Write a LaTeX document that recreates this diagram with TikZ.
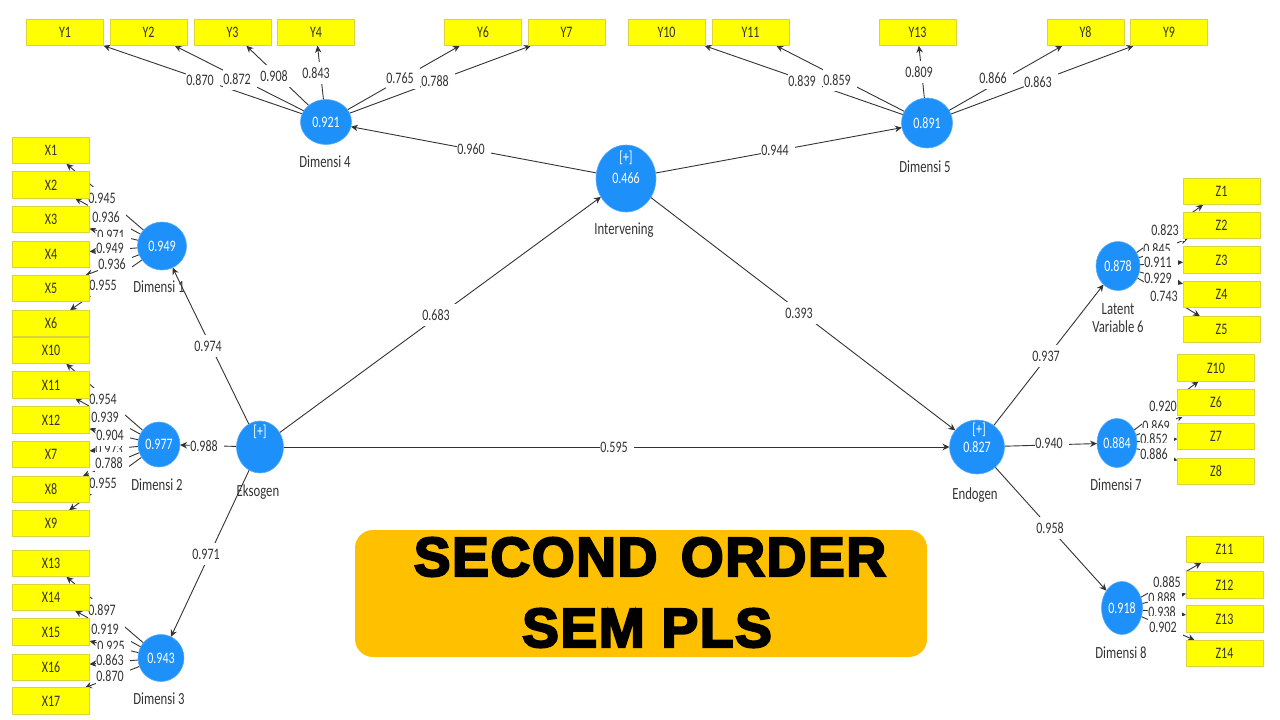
\documentclass[tikz,border=0pt]{standalone}
\usepackage{fontspec}
\setmainfont[FakeStretch=0.75]{Carlito}
\newfontfamily\headfont[FakeBold=4, LetterSpace=3]{Liberation Sans Bold}
\usetikzlibrary{arrows.meta, shapes.geometric, backgrounds}
\definecolor{boxyellow}{HTML}{FFFF00}
\definecolor{boxedge}{HTML}{DCD23C}
\definecolor{latentblue}{HTML}{1E90FA}
\definecolor{bannerorange}{HTML}{FFC000}
\definecolor{inktext}{HTML}{333333}
\tikzset{
indicator/.style={draw=boxedge, line width=0.8pt, fill=boxyellow, minimum width=77, minimum height=26.5, inner sep=0, outer sep=0, font=\fontsize{16}{16}\selectfont, text=inktext},
latent/.style={ellipse, fill=latentblue, draw=latentblue!75!white, line width=0.6pt, inner sep=0, outer sep=0, text=white, font=\fontsize{16}{16}\selectfont},
plus/.style={text=white, font=\fontsize{16}{16}\selectfont, inner sep=0},
loading/.style={fill=white, inner sep=0, minimum height=22, xshift=3pt, execute at end node={\hspace{6pt}}, text=inktext, font=\fontsize{16}{16}\selectfont},
caption/.style={text=inktext, inner sep=0, align=center, font=\fontsize{17}{18}\selectfont},
heading/.style={inner sep=0, text=black, font=\headfont\fontsize{55}{55}\selectfont},
link/.style={draw=black!80, line width=0.9pt, -{Stealth[length=7pt,width=6.5pt]}}
}
\begin{document}
\begin{tikzpicture}[x=1pt, y=-1pt]
\useasboundingbox (0,0) rectangle (1280,720);

\node[loading] (lx1) at (102,198) {0.945};
\node[loading] (lx2) at (106,217) {0.936};
\node[loading] (lx3) at (111,235) {0.971};
\node[loading] (lx4) at (110,248) {0.949};
\node[loading] (lx5) at (112,264) {0.936};
\node[loading] (lx6) at (103,285) {0.955};
\node[loading] (lx7) at (109,449) {0.973};
\node[loading] (lx8) at (109,463) {0.788};
\node[loading] (lx9) at (103,483) {0.955};
\node[loading] (lx10) at (103,399) {0.954};
\node[loading] (lx11) at (105,417) {0.939};
\node[loading] (lx12) at (110,435) {0.904};
\node[loading] (lx13) at (102,610) {0.897};
\node[loading] (lx14) at (105,629) {0.919};
\node[loading] (lx15) at (111,646) {0.925};
\node[loading] (lx16) at (110,660) {0.863};
\node[loading] (lx17) at (110,676) {0.870};

\node[loading] (ly1) at (200,80) {0.870};
\node[loading] (ly2) at (237,79) {0.872};
\node[loading] (ly3) at (274,76) {0.908};
\node[loading] (ly4) at (316,73) {0.843};
\node[loading] (ly6) at (400,78) {0.765};
\node[loading] (ly7) at (435,81) {0.788};
\node[loading] (ly10) at (802,81) {0.839};
\node[loading] (ly11) at (837,80) {0.859};
\node[loading] (ly13) at (919,72) {0.809};
\node[loading] (ly8) at (993,78) {0.866};
\node[loading] (ly9) at (1038,82) {0.863};

\node[loading] (lz1) at (1165,230) {0.823};
\node[loading] (lz2) at (1157,249) {0.845};
\node[loading] (lz3) at (1158,262) {0.911};
\node[loading] (lz4) at (1158,278) {0.929};
\node[loading] (lz5) at (1164,296) {0.743};
\node[loading] (lz10) at (1163,406) {0.920};
\node[loading] (lz6) at (1156,426) {0.869};
\node[loading] (lz7) at (1154,439) {0.852};
\node[loading] (lz8) at (1154,454) {0.886};
\node[loading] (lz11) at (1167,582) {0.885};
\node[loading] (lz12) at (1162,598) {0.888};
\node[loading] (lz13) at (1162,612) {0.938};
\node[loading] (lz14) at (1163,627) {0.902};

\node[loading] (p1) at (471,149) {0.960};
\node[loading] (p2) at (775,150) {0.944};
\node[loading] (p3) at (436,315) {0.683};
\node[loading] (p4) at (799,313) {0.393};
\node[loading] (p5) at (208,346) {0.974};
\node[loading] (p6) at (204,446) {0.988};
\node[loading] (p7) at (206,554) {0.971};
\node[loading] (p8) at (614,447) {0.595};
\node[loading] (p9) at (1046,356) {0.937};
\node[loading] (p10) at (1049,443) {0.940};
\node[loading] (p11) at (1050,528) {0.958};

\node[indicator] (x1) at (51,150.5) {X1};
\node[indicator] (x2) at (51,185) {X2};
\node[indicator] (x3) at (51,219.5) {X3};
\node[indicator] (x4) at (51,254.5) {X4};
\node[indicator] (x5) at (51,288.5) {X5};
\node[indicator] (x6) at (51,323.5) {X6};
\node[indicator] (x10) at (51,350.5) {X10};
\node[indicator] (x11) at (51,385) {X11};
\node[indicator] (x12) at (51,420) {X12};
\node[indicator] (x7) at (51,454.5) {X7};
\node[indicator] (x8) at (51,489.5) {X8};
\node[indicator] (x9) at (51,523.5) {X9};
\node[indicator] (x13) at (51,563.5) {X13};
\node[indicator] (x14) at (51,597.5) {X14};
\node[indicator] (x15) at (51,632) {X15};
\node[indicator] (x16) at (51,667.5) {X16};
\node[indicator] (x17) at (51,701) {X17};

\node[indicator] (y1) at (65,32.5) {Y1};
\node[indicator] (y2) at (148.5,32.5) {Y2};
\node[indicator] (y3) at (232.5,32.5) {Y3};
\node[indicator] (y4) at (316,32.5) {Y4};
\node[indicator] (y6) at (483,32.5) {Y6};
\node[indicator] (y7) at (566.5,32.5) {Y7};
\node[indicator] (y10) at (666.5,32.5) {Y10};
\node[indicator] (y11) at (750.5,32.5) {Y11};
\node[indicator] (y13) at (917.5,32.5) {Y13};
\node[indicator] (y8) at (1085.5,32.5) {Y8};
\node[indicator] (y9) at (1169,32.5) {Y9};

\node[indicator] (z1) at (1221.5,191.5) {Z1};
\node[indicator] (z2) at (1221.5,225.5) {Z2};
\node[indicator] (z3) at (1221.5,260) {Z3};
\node[indicator] (z4) at (1221.5,294.5) {Z4};
\node[indicator] (z5) at (1221.5,329.5) {Z5};
\node[indicator] (z10) at (1216,368) {Z10};
\node[indicator] (z6) at (1216,402.5) {Z6};
\node[indicator] (z7) at (1216,436.5) {Z7};
\node[indicator] (z8) at (1216,471.5) {Z8};
\node[indicator] (z11) at (1224.5,549.5) {Z11};
\node[indicator] (z12) at (1224.5,585) {Z12};
\node[indicator] (z13) at (1224.5,619) {Z13};
\node[indicator] (z14) at (1224.5,653.5) {Z14};

\node[latent, minimum width=49, minimum height=48] (dim1) at (162,246) {0.949};
\node[latent, minimum width=42, minimum height=45] (dim2) at (159,444.5) {0.977};
\node[latent, minimum width=46, minimum height=47] (dim3) at (161,658) {0.943};
\node[latent, minimum width=51, minimum height=45] (dim4) at (326,122) {0.921};
\node[latent, minimum width=51, minimum height=50] (dim5) at (927,123) {0.891};
\node[latent, minimum width=44, minimum height=49] (dim6) at (1118,266) {0.878};
\node[latent, minimum width=40, minimum height=49] (dim7) at (1117,443) {0.884};
\node[latent, minimum width=41, minimum height=53] (dim8) at (1122,608) {0.918};
\node[latent, minimum width=47, minimum height=52] (eksogen) at (260,447) {};
\node[latent, minimum width=60, minimum height=67] (intervening) at (626,178.5) {0.466};
\node[latent, minimum width=55, minimum height=54] (endogen) at (977,447) {0.827};
\node[plus] (plus1) at (260,432) {[+]};
\node[plus] (plus2) at (626,158) {[+]};
\node[plus] (plus3) at (979,430) {[+]};

\node[caption] (cap1) at (159,287) {Dimensi 1};
\node[caption] (cap2) at (157,485) {Dimensi 2};
\node[caption] (cap3) at (159,699) {Dimensi 3};
\node[caption] (cap4) at (325,162) {Dimensi 4};
\node[caption] (cap5) at (925,167) {Dimensi 5};
\node[caption] (cap6) at (1118,318) {Latent\\Variable 6};
\node[caption] (cap7) at (1116,485) {Dimensi 7};
\node[caption] (cap8) at (1121,653) {Dimensi 8};
\node[caption] (cap9) at (258,492) {Eksogen};
\node[caption] (cap10) at (624,230) {Intervening};
\node[caption] (cap11) at (975,495) {Endogen};

\node[fill=bannerorange, rounded corners=18, minimum width=572, minimum height=127, inner sep=0] (banner) at (641,593.5) {};
\node[heading] (head1) at (650,557) {SECOND\hspace{0.12em} ORDER};
\node[heading] (head2) at (647,628) {SEM PLS};

\begin{scope}[on background layer]
\draw[link] (dim1) -- (x1);
\draw[link] (dim1) -- (x2);
\draw[link] (dim1) -- (x3);
\draw[link] (dim1) -- (x4);
\draw[link] (dim1) -- (x5);
\draw[link] (dim1) -- (x6);
\draw[link] (dim2) -- (x10);
\draw[link] (dim2) -- (x11);
\draw[link] (dim2) -- (x12);
\draw[link] (dim2) -- (x7);
\draw[link] (dim2) -- (x8);
\draw[link] (dim2) -- (x9);
\draw[link] (dim3) -- (x13);
\draw[link] (dim3) -- (x14);
\draw[link] (dim3) -- (x15);
\draw[link] (dim3) -- (x16);
\draw[link] (dim3) -- (x17);
\draw[link] (dim4) -- (y1);
\draw[link] (dim4) -- (y2);
\draw[link] (dim4) -- (y3);
\draw[link] (dim4) -- (y4);
\draw[link] (dim4) -- (y6);
\draw[link] (dim4) -- (y7);
\draw[link] (dim5) -- (y10);
\draw[link] (dim5) -- (y11);
\draw[link] (dim5) -- (y13);
\draw[link] (dim5) -- (y8);
\draw[link] (dim5) -- (y9);
\draw[link] (dim6) -- (z1);
\draw[link] (dim6) -- (z2);
\draw[link] (dim6) -- (z3);
\draw[link] (dim6) -- (z4);
\draw[link] (dim6) -- (z5);
\draw[link] (dim7) -- (z10);
\draw[link] (dim7) -- (z6);
\draw[link] (dim7) -- (z7);
\draw[link] (dim7) -- (z8);
\draw[link] (dim8) -- (z11);
\draw[link] (dim8) -- (z12);
\draw[link] (dim8) -- (z13);
\draw[link] (dim8) -- (z14);
\draw[link] (eksogen) -- (dim1);
\draw[link] (eksogen) -- (dim2);
\draw[link] (eksogen) -- (dim3);
\draw[link] (eksogen) -- (intervening);
\draw[link] (eksogen) -- (endogen);
\draw[link] (intervening) -- (dim4);
\draw[link] (intervening) -- (dim5);
\draw[link] (intervening) -- (endogen);
\draw[link] (endogen) -- (dim6);
\draw[link] (endogen) -- (dim7);
\draw[link] (endogen) -- (dim8);
\end{scope}
\end{tikzpicture}
\end{document}
